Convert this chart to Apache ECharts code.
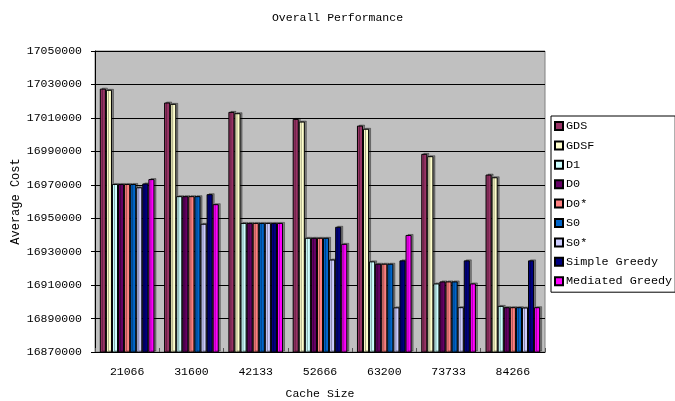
<!DOCTYPE html>
<html>
<head>
<meta charset="utf-8">
<script src="https://cdn.jsdelivr.net/npm/echarts@6/dist/echarts.min.js"></script>
<style>
  html, body { margin: 0; padding: 0; background: #fff; }
  #chart { width: 675px; height: 401px; }
</style>
</head>
<body>
<div id="chart"></div>
<script>
// Cache sizes on the x axis
const cacheSizes = ['21066', '31600', '42133', '52666', '63200', '73733', '84266'];

// Average cost per algorithm, one value per cache size
const gds      = [17027500, 17019200, 17013600, 17009400, 17005400, 16988500, 16976100];
const gdsf     = [17026800, 17018400, 17012800, 17007800, 17003500, 16987100, 16974500];
const d1       = [16970500, 16963200, 16947200, 16938300, 16924200, 16911000, 16897600];
const d0       = [16970500, 16963200, 16947200, 16938300, 16922800, 16912200, 16896800];
const d0star   = [16970500, 16963200, 16947200, 16938300, 16922800, 16912200, 16896800];
const s0       = [16970500, 16963200, 16947200, 16938300, 16922800, 16912200, 16896800];
const s0star   = [16968500, 16946700, 16947200, 16925300, 16896700, 16896800, 16896600];
const simpleGreedy   = [16970800, 16964400, 16947200, 16944900, 16924800, 16924800, 16924800];
const mediatedGreedy = [16973400, 16958400, 16947200, 16934700, 16940000, 16911000, 16896800];

const seriesNames  = ['GDS', 'GDSF', 'D1', 'D0', 'D0*', 'S0', 'S0*', 'Simple Greedy', 'Mediated Greedy'];
const seriesData   = [gds, gdsf, d1, d0, d0star, s0, s0star, simpleGreedy, mediatedGreedy];
const seriesColors = ['#993366', '#FFFFCC', '#CCFFFF', '#660066', '#FF8080', '#0066CC', '#CCCCFF', '#000080', '#FF00FF'];

// Y axis range and step
const yMin = 16870000;
const yMax = 17050000;
const yStep = 20000;

const font = '"Liberation Mono", "DejaVu Sans Mono", monospace';

const chart = echarts.init(document.getElementById('chart'), null, { renderer: 'canvas' });

chart.setOption({
  animation: false,
  backgroundColor: '#ffffff',
  textStyle: { fontFamily: font, color: '#000' },
  title: {
    text: 'Overall Performance',
    left: 'center',
    top: 7,
    textStyle: { fontFamily: font, fontSize: 11.5, fontWeight: 'normal', color: '#000' }
  },
  legend: {
    orient: 'vertical',
    left: 551,
    top: 116,
    padding: [4, 3, 5, 3],
    itemWidth: 8,
    itemHeight: 8,
    itemGap: 7.4,
    backgroundColor: '#ffffff',
    borderColor: '#000000',
    borderWidth: 1,
    borderRadius: 0,
    icon: 'rect',
    textStyle: { fontFamily: font, fontSize: 11.8, color: '#000', lineHeight: 12, padding: [0, 0, 0, -2] },
    data: seriesNames
  },
  grid: {
    left: 95,
    right: 130,
    top: 51,
    bottom: 49,
    outerBoundsMode: 'none',
    containLabel: false,
    show: true,
    backgroundColor: '#c0c0c0',
    borderColor: '#808080',
    borderWidth: 1
  },
  xAxis: {
    type: 'category',
    data: cacheSizes,
    name: 'Cache Size',
    nameLocation: 'middle',
    nameGap: 36,
    nameMoveOverlap: false,
    nameTextStyle: { fontFamily: font, fontSize: 11.5, color: '#000' },
    axisLine: { show: true, lineStyle: { color: '#000', width: 1 } },
    axisTick: { show: true, inside: true, length: 4, lineStyle: { color: '#555' } },
    axisLabel: { fontFamily: font, fontSize: 11.5, color: '#000', margin: 14 }
  },
  yAxis: {
    type: 'value',
    min: yMin,
    max: yMax,
    interval: yStep,
    name: 'Average Cost',
    nameLocation: 'middle',
    nameGap: 73,
    nameMoveOverlap: false,
    nameRotate: 90,
    nameTextStyle: { fontFamily: font, fontSize: 12, color: '#000' },
    axisLine: { show: true, lineStyle: { color: '#000', width: 1 } },
    axisTick: { show: true, length: 4, lineStyle: { color: '#000' } },
    axisLabel: {
      fontFamily: font, fontSize: 11.5, color: '#000', margin: 13,
      formatter: (v) => String(v)
    },
    splitLine: { show: true, lineStyle: { color: '#000', width: 1 } }
  },
  series: seriesNames.map((name, i) => ({
    name: name,
    type: 'bar',
    data: seriesData[i],
    barGap: '0%',
    barCategoryGap: '15%',
    itemStyle: {
      color: seriesColors[i],
      borderColor: '#000',
      borderWidth: 1,
      shadowColor: 'rgba(0,0,0,0.35)',
      shadowOffsetX: 2,
      shadowOffsetY: -1,
      shadowBlur: 0
    }
  }))
});
</script>
</body>
</html>
